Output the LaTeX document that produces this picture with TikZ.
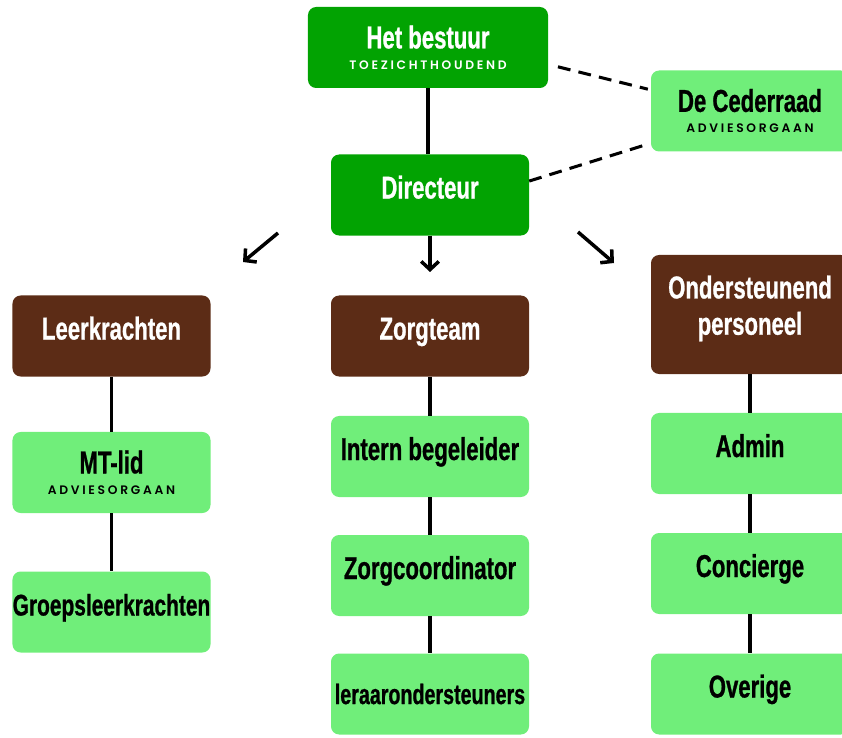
\documentclass[tikz,border=0pt]{standalone}
\usepackage{fontspec}
\usetikzlibrary{arrows.meta}
\newfontfamily\titlefont{Liberation Sans}[UprightFont={* Bold},FakeStretch=0.70,FakeBold=0.8]
\newfontfamily\subfont{Poppins}[UprightFont={* SemiBold},LetterSpace=22]
\definecolor{darkgr}{RGB}{2,163,2}
\definecolor{lightgr}{RGB}{112,238,122}
\definecolor{orgbrown}{RGB}{92,44,22}
\newcommand\subline[1]{\\[-15pt]{\subfont\fontsize{10.5}{11}\selectfont #1}}
\tikzset{
  box/.style={rectangle, rounded corners=7pt, minimum width=5.94cm, minimum height=2.43cm, inner sep=0pt, align=center, font=\titlefont\fontsize{27}{33}\selectfont},
  top/.style={box, fill=darkgr, text=white},
  sub/.style={box, fill=lightgr, text=black},
  head/.style={box, fill=orgbrown, text=white},
  solo/.style={text height=20pt, text depth=14pt},
  link/.style={line width=3pt},
  advice/.style={line width=2.6pt, dash pattern=on 11pt off 7pt},
  pointer/.style={line width=3pt, -{Straight Barb[length=7pt,width=15pt]}}
}

\begin{document}
\begin{tikzpicture}[x=0.03cm, y=-0.03cm]
\useasboundingbox (0,0) rectangle (842,738);
\clip (0,0) rectangle (842,738);

\node[top, minimum width=7.2cm] (hb) at (428,47.5) {Het bestuur\subline{TOEZICHTHOUDEND}};
\node[sub] (dc) at (750,111) {De Cederraad\subline{ADVIESORGAAN}};
\node[top, solo] (dr) at (430,195) {Directeur};

\node[head, solo] (lk) at (111.5,336) {Leerkrachten};
\node[head, solo] (zt) at (430,336) {Zorgteam};
\node[head, minimum height=3.57cm, font=\titlefont\fontsize{27}{31}\selectfont, text depth=16pt] (op) at (750,314.5) {Ondersteunend\\personeel};

\node[sub] (mt) at (111.5,472.5) {MT-lid\subline{ADVIESORGAAN}};
\node[sub, solo, font=\titlefont\fontsize{25.5}{31}\selectfont] (gl) at (111.5,612) {Groepsleerkrachten};
\node[sub, solo] (ib) at (430,456.5) {Intern begeleider};
\node[sub, solo] (zc) at (430,575.5) {Zorgcoordinator};
\node[sub, font=\titlefont\fontsize{24}{30}\selectfont] (lo) at (430,694) {leraarondersteuners};
\node[sub, solo] (ad) at (750,453.5) {Admin};
\node[sub, solo] (co) at (750,573.5) {Concierge};
\node[sub, solo] (ov) at (750,694) {Overige};

\draw[link] (hb.south) -- (hb.south |- dr.north);
\draw[advice, shorten <=10*0.03cm, shorten >=3*0.03cm] (hb.-8.5) -- (dc.168);
\draw[advice, shorten >=3*0.03cm] (dr.8.6) -- (dc.-162);

\coordinate (p1) at (278,233);
\coordinate (q1) at (243,262);
\coordinate (q2) at (430,272);
\coordinate (p3) at (578,232);
\coordinate (q3) at (614,263);
\draw[pointer] (p1) -- (q1);
\draw[pointer] (dr.south) -- (q2);
\draw[pointer] (p3) -- (q3);

\foreach \a/\b in {lk/mt, mt/gl, zt/ib, ib/zc, zc/lo, op/ad, ad/co, co/ov}
  \draw[link] (\a) -- (\b);
\end{tikzpicture}
\end{document}
